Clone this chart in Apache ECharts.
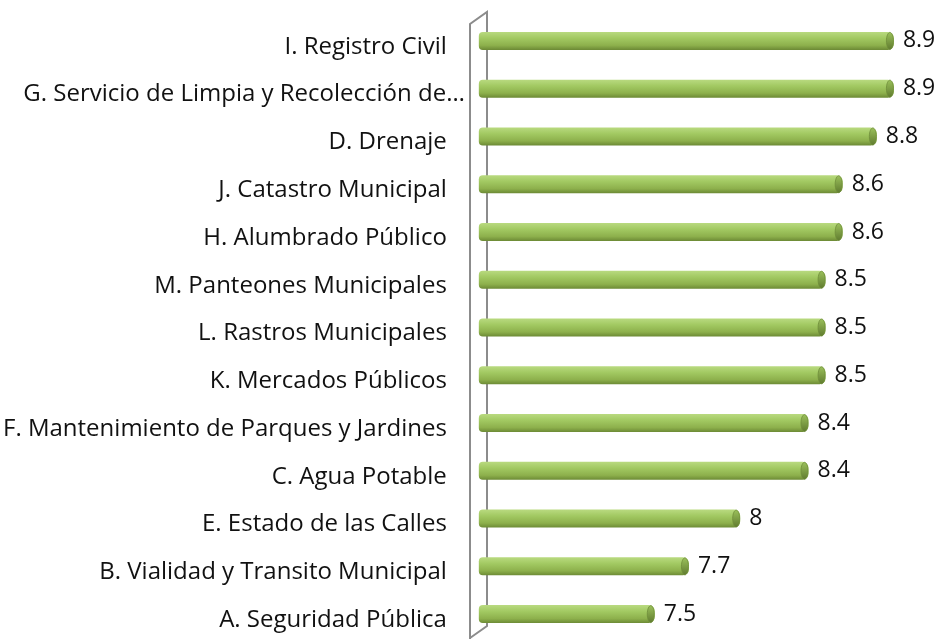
<!DOCTYPE html>
<html>
<head>
<meta charset="utf-8">
<script src="https://cdn.jsdelivr.net/npm/echarts@6/dist/echarts.min.js"></script>
<style>
  html, body { margin: 0; padding: 0; background: #fff; }
  #chart { width: 939px; height: 639px; }
</style>
</head>
<body>
<div id="chart"></div>
<script>
// bottom to top, as the category axis draws them
const categories = [
  "A. Seguridad Pública",
  "B. Vialidad y Transito Municipal",
  "E. Estado de las Calles",
  "C. Agua Potable",
  "F. Mantenimiento de Parques y Jardines",
  "K. Mercados Públicos",
  "L. Rastros Municipales",
  "M. Panteones Municipales",
  "H. Alumbrado Público",
  "J. Catastro Municipal",
  "D. Drenaje",
  "G. Servicio de Limpia y Recolección de…",
  "I. Registro Civil"
];
const scores = [7.5, 7.7, 8, 8.4, 8.4, 8.5, 8.5, 8.5, 8.6, 8.6, 8.8, 8.9, 8.9];

const FONT = "'Open Sans', sans-serif";
const chart = echarts.init(document.getElementById("chart"));

const barFill = new echarts.graphic.LinearGradient(0, 0, 0, 1, [
  { offset: 0, color: "#b9da80" },
  { offset: 0.35, color: "#a2c962" },
  { offset: 0.75, color: "#8db04c" },
  { offset: 1, color: "#6c8a35" }
]);

chart.setOption({
  animation: false,
  grid: { left: 477, top: 17, right: 28, bottom: 1 },
  xAxis: {
    type: "value",
    min: 6.47,
    max: 9,
    show: false
  },
  yAxis: {
    type: "category",
    data: categories,
    axisLine: { show: false },
    axisTick: { show: false },
    axisLabel: {
      margin: 14,
      // labels sit a little lower than the bars (3D floor offset)
      formatter: (v) => (v.startsWith("G.") ? "{g|" + v + "}" : "{a|" + v + "}"),
      rich: {
        a: { fontFamily: FONT, fontSize: 24, color: "#111", padding: [12, 18, 0, 0] },
        g: { fontFamily: FONT, fontSize: 24, color: "#111", padding: [12, 0, 0, 0] }
      }
    }
  },
  series: [
    {
      type: "bar",
      data: scores,
      barWidth: 18,
      itemStyle: { color: barFill, borderRadius: [4, 6, 6, 4] },
      label: {
        show: true,
        position: "right",
        distance: 9,
        fontFamily: FONT,
        fontSize: 23,
        color: "#111"
      }
    },
    {
      // darker elliptical end cap of each cylinder
      type: "custom",
      data: scores.map((v, i) => [v, i]),
      silent: true,
      z: 3,
      renderItem: (params, api) => {
        const p = api.coord([api.value(0), api.value(1)]);
        return {
          type: "ellipse",
          shape: { cx: p[0] - 4, cy: p[1], rx: 3.5, ry: 8.5 },
          style: {
            fill: new echarts.graphic.LinearGradient(0, 0, 0, 1, [
              { offset: 0, color: "#9cc25c" },
              { offset: 1, color: "#5f7a2e" }
            ]),
            stroke: "#6f8d3a",
            lineWidth: 0.8
          }
        };
      }
    }
  ],
  graphic: [
    {
      type: "polyline",
      silent: true,
      shape: { points: [[470, 639], [470, 24], [487, 12], [487, 626], [470, 638]] },
      style: { stroke: "#8c8c8c", lineWidth: 2, fill: null }
    }
  ]
});
</script>
</body>
</html>
